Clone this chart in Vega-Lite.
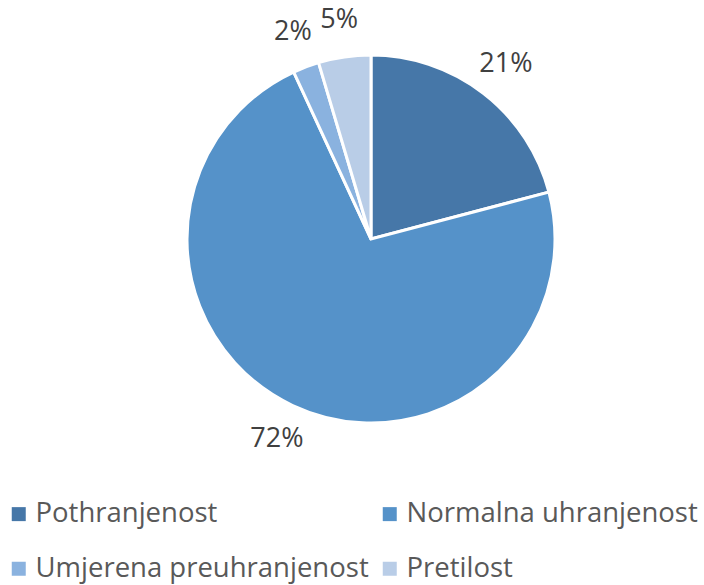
{
  "$schema": "https://vega.github.io/schema/vega-lite/v6.json",
  "autosize": "none",
  "width": 666,
  "height": 478,
  "padding": {"left": 38, "top": 0, "right": 0, "bottom": 107},
  "background": "white",
  "data": {
    "values": [
      {"kategorija": "Pothranjenost", "udio": 20.9, "oznaka": "21%", "ord": 1},
      {"kategorija": "Normalna uhranjenost", "udio": 72.2, "oznaka": "72%", "ord": 2},
      {"kategorija": "Umjerena preuhranjenost", "udio": 2.3, "oznaka": "2%", "ord": 3},
      {"kategorija": "Pretilost", "udio": 4.6, "oznaka": "5%", "ord": 4}
    ]
  },
  "encoding": {
    "theta": {"field": "udio", "type": "quantitative", "stack": true},
    "order": {"field": "ord", "type": "quantitative"}
  },
  "layer": [
    {
      "mark": {"type": "arc", "outerRadius": 184, "stroke": "white", "strokeWidth": 3},
      "encoding": {
        "color": {
          "field": "kategorija",
          "type": "nominal",
          "scale": {
            "domain": ["Pothranjenost", "Normalna uhranjenost", "Umjerena preuhranjenost", "Pretilost"],
            "range": ["#4677a8", "#5592c9", "#8ab2df", "#b9cde7"]
          },
          "legend": {
            "title": null,
            "orient": "none",
            "legendX": -33,
            "legendY": 500,
            "columns": 2,
            "direction": "horizontal",
            "symbolType": "square",
            "symbolSize": 196,
            "symbolStrokeWidth": 0,
            "labelFont": "Open Sans",
            "labelFontSize": 27.5,
            "labelColor": "#595959",
            "labelLimit": 400,
            "labelOffset": 3,
            "rowPadding": 26,
            "columnPadding": 7
          }
        }
      }
    },
    {
      "mark": {"type": "text", "radius": 221, "font": "Open Sans", "fontSize": 27, "color": "#404040", "align": "center", "baseline": "middle"},
      "encoding": {
        "text": {"field": "oznaka", "type": "nominal"}
      }
    }
  ]
}
